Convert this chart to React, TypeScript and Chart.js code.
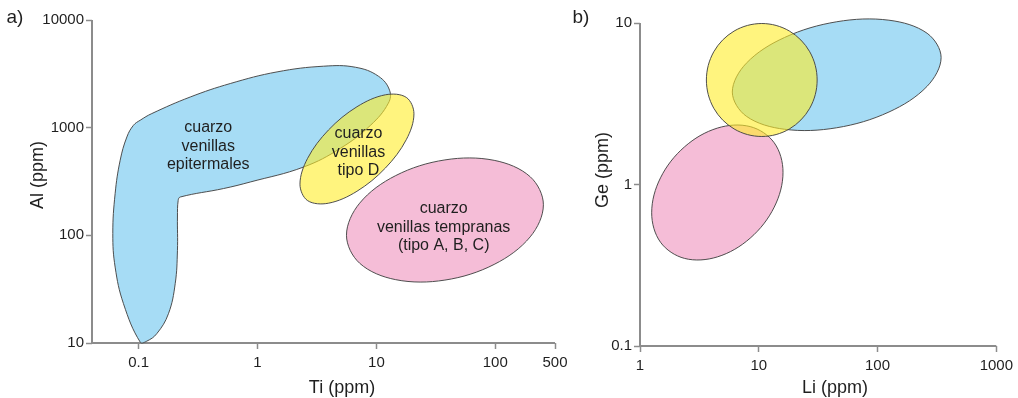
import React, { useEffect, useRef } from 'react';
import { Chart, registerables } from 'chart.js';

Chart.register(...registerables);

// ---------------- Panel a) Ti (ppm) vs Al (ppm) ----------------
const tiTickValues = [0.1, 1, 10, 100, 318];
const tiTickLabels = ['0.1', '1', '10', '100', '500'];
const tiAxisMin = 0.0405;
const tiAxisMax = 318;
const alTickValues = [10, 100, 1000, 10000];
const alTickLabels = ['10', '100', '1000', '10000'];
const alAxisMin = 10;
const alAxisMax = 10000;

// field "cuarzo venillas epitermales" (outline points)
const epiTi = [0.103, 0.0745, 0.0634, 0.0606, 0.0634, 0.0699, 0.0796, 0.0904, 0.103, 0.129, 0.272, 0.59, 1.46, 3.6, 6.67, 10.4, 12.9, 12.6, 8.92, 4.99, 2.44, 0.87, 0.518, 0.224, 0.215, 0.212, 0.212, 0.203, 0.178, 0.142, 0.117];
const epiAl = [10.2, 23.2, 50.7, 104, 244, 498, 820, 1052, 1172, 1352, 1928, 2570, 3296, 3724, 3640, 3006, 2228, 1687, 1052, 644, 431, 313, 272, 227, 211, 148, 72.6, 35.6, 18.7, 12.2, 10.4];

// field "cuarzo venillas tipo D"
const tipoDTi = [20.69, 17.84, 11.91, 6.86, 3.95, 2.637, 2.275, 2.637, 3.95, 6.86, 11.91, 17.84];
const tipoDAl = [1345, 1911, 2020, 1564, 951, 518.8, 298.5, 210.1, 198.8, 256.6, 422.1, 773.7];

// field "cuarzo venillas tempranas (tipo A, B, C)"
const tempTi = [254.0, 196.7, 97.9, 37.7, 14.53, 7.23, 5.6, 7.23, 14.53, 37.7, 97.9, 196.7];
const tempAl = [192.3, 350.1, 497.2, 501.8, 358.8, 199.0, 100.2, 55.05, 38.75, 38.4, 53.7, 96.8];

const aLabelLines = [
  ['cuarzo', 'venillas', 'epitermales'],
  ['cuarzo', 'venillas', 'tipo D'],
  ['cuarzo', 'venillas tempranas', '(tipo A, B, C)'],
];
const aLabelTi = [0.385, 7.07, 36.8];
const aLabelAl = [672, 590, 119];

// ---------------- Panel b) Li (ppm) vs Ge (ppm) ----------------
const liTickValues = [1, 10, 100, 1000];
const liTickLabels = ['1', '10', '100', '1000'];
const liAxisMin = 1;
const liAxisMax = 1000;
const geTickValues = [0.1, 1, 10];
const geTickLabels = ['0.1', '1', '10'];
const geAxisMin = 0.1;
const geAxisMax = 11.21;

const bPinkLi = [16.0, 13.49, 8.47, 4.48, 2.371, 1.488, 1.254, 1.488, 2.371, 4.48, 8.47, 13.49];
const bPinkGe = [1.191, 1.813, 2.283, 2.235, 1.711, 1.1, 0.668, 0.439, 0.3487, 0.3562, 0.4655, 0.724];

const bYellowLi = [31.01, 26.86, 18.13, 10.6, 6.194, 4.181, 3.622, 4.181, 6.194, 10.6, 18.13, 26.86];
const bYellowGe = [4.437, 6.637, 8.913, 9.929, 8.913, 6.637, 4.437, 2.966, 2.209, 1.983, 2.209, 2.966];

const bBlueLi = [343.0, 261.5, 124.7, 45.33, 16.48, 7.855, 5.988, 7.855, 16.48, 45.33, 124.7, 261.5];
const bBlueGe = [6.118, 8.638, 10.41, 10.18, 8.135, 5.636, 3.737, 2.647, 2.198, 2.246, 2.811, 4.057];

// ---------------- styling ----------------
const FONT = "'Liberation Sans', Arial, Helvetica, sans-serif";
const AXIS = '#8c8c8c';
const INK = '#1f1f1f';
const EDGE = 'rgba(70,70,70,0.95)';
const BLUE = 'rgb(166, 220, 245)';
const PINK = 'rgb(245, 189, 215)';
const YELLOW = 'rgba(255, 236, 40, 0.6)';
const H = 398;

const toPts = (xs: number[], ys: number[]) => xs.map((x, i) => ({ x, y: ys[i] }));

// makes every line dataset a closed smooth outline
const closedLoop = {
  id: 'closedLoop',
  afterDatasetUpdate(_chart: any, args: any) {
    const line = args.meta && args.meta.dataset;
    if (line) {
      line._loop = true;
      line._fullLoop = true;
      line.points = line.points;
    }
  },
};

// axis lines: y from the bottom up to its top tick, x along the bottom
const axisLines = {
  id: 'axisLines',
  beforeDatasetsDraw(chart: any) {
    const ctx = chart.ctx;
    const ca = chart.chartArea;
    const ys = chart.scales.y;
    const yTop = Math.round(ys.getPixelForValue(ys.ticks[ys.ticks.length - 1].value));
    ctx.save();
    ctx.strokeStyle = AXIS;
    ctx.lineWidth = 2;
    ctx.beginPath();
    ctx.moveTo(ca.left, yTop);
    ctx.lineTo(ca.left, ca.bottom);
    ctx.lineTo(ca.right, ca.bottom);
    ctx.stroke();
    ctx.restore();
  },
};

function shape(label: string, xs: number[], ys: number[], fill: string, tension: number) {
  return {
    label,
    data: toPts(xs, ys),
    backgroundColor: fill,
    borderColor: EDGE,
    borderWidth: 1,
    fill: 'shape',
    tension,
    pointRadius: 0,
    pointHoverRadius: 0,
    capBezierPoints: false,
    clip: 40,
  };
}

function axis(min: number, max: number, values: number[], labels: string[], isX: boolean, fitSize: number) {
  return {
    type: 'logarithmic',
    min,
    max,
    position: isX ? 'bottom' : 'left',
    afterBuildTicks: (s: any) => {
      s.ticks = values.map((v) => ({ value: v }));
    },
    afterFit: (s: any) => {
      if (isX) s.height = fitSize;
      else s.width = fitSize;
    },
    ticks: {
      autoSkip: false,
      maxRotation: 0,
      minRotation: 0,
      padding: isX ? 5 : 2,
      color: INK,
      font: { family: FONT, size: 15 },
      callback: (_v: any, i: number) => labels[i],
    },
    grid: { display: true, drawOnChartArea: false, drawTicks: true, tickLength: 6, tickColor: AXIS, tickWidth: 1.5 },
    border: { display: false },
    title: { display: false },
  };
}

function textPlugin(spec: any) {
  return {
    id: 'panelTexts',
    afterDatasetsDraw(chart: any) {
      const ctx = chart.ctx;
      const xs = chart.scales.x;
      const ys = chart.scales.y;
      ctx.save();
      ctx.fillStyle = INK;
      ctx.textAlign = 'center';
      ctx.textBaseline = 'middle';
      ctx.font = `16px ${FONT}`;
      (spec.lines || []).forEach((lines: string[], k: number) => {
        const cx = xs.getPixelForValue(spec.lx[k]);
        const cy = ys.getPixelForValue(spec.ly[k]);
        lines.forEach((t, j) => ctx.fillText(t, cx, cy + (j - (lines.length - 1) / 2) * 18.5));
      });
      ctx.font = `19px ${FONT}`;
      ctx.fillText(spec.letter, spec.letterPos[0], spec.letterPos[1]);
      ctx.font = `18px ${FONT}`;
      ctx.textBaseline = 'alphabetic';
      ctx.fillText(spec.xTitle, spec.xTitlePos[0], spec.xTitlePos[1]);
      ctx.translate(spec.yTitlePos[0], spec.yTitlePos[1]);
      ctx.rotate(-Math.PI / 2);
      ctx.fillText(spec.yTitle, 0, 0);
      ctx.restore();
    },
  };
}

function baseOptions(padding: any, x: any, y: any) {
  return {
    animation: false,
    responsive: false,
    devicePixelRatio: 1,
    events: [],
    layout: { padding },
    scales: { x, y },
    plugins: { legend: { display: false }, tooltip: { enabled: false } },
  };
}

function configA(): any {
  return {
    type: 'line',
    data: {
      datasets: [
        shape('cuarzo venillas tipo D', tipoDTi, tipoDAl, YELLOW, 0.35),
        shape('cuarzo venillas tempranas', tempTi, tempAl, PINK, 0.35),
        shape('cuarzo venillas epitermales', epiTi, epiAl, BLUE, 0.4),
      ],
    },
    options: baseOptions(
      { left: 0, top: 20, right: 25, bottom: 0 },
      axis(tiAxisMin, tiAxisMax, tiTickValues, tiTickLabels, true, 55),
      axis(alAxisMin, alAxisMax, alTickValues, alTickLabels, false, 92)
    ),
    plugins: [
      closedLoop,
      axisLines,
      textPlugin({
        lines: aLabelLines,
        lx: aLabelTi,
        ly: aLabelAl,
        letter: 'a)',
        letterPos: [15, 18],
        xTitle: 'Ti (ppm)',
        xTitlePos: [342, 393],
        yTitle: 'Al (ppm)',
        yTitlePos: [43, 175],
      }),
    ],
  };
}

function configB(): any {
  return {
    type: 'line',
    data: {
      datasets: [
        shape('yellow', bYellowLi, bYellowGe, YELLOW, 0.35),
        shape('pink', bPinkLi, bPinkGe, PINK, 0.35),
        shape('blue', bBlueLi, bBlueGe, BLUE, 0.35),
      ],
    },
    options: baseOptions(
      { left: 0, top: 15, right: 21, bottom: 0 },
      axis(liAxisMin, liAxisMax, liTickValues, liTickLabels, true, 52),
      axis(geAxisMin, geAxisMax, geTickValues, geTickLabels, false, 80)
    ),
    plugins: [
      closedLoop,
      axisLines,
      textPlugin({
        lines: [],
        lx: [],
        ly: [],
        letter: 'b)',
        letterPos: [21, 18],
        xTitle: 'Li (ppm)',
        xTitlePos: [275, 393],
        yTitle: 'Ge (ppm)',
        yTitlePos: [48, 170],
      }),
    ],
  };
}

function Panel({ left, width, make }: { left: number; width: number; make: () => any }) {
  const ref = useRef<HTMLCanvasElement | null>(null);
  useEffect(() => {
    if (!ref.current) return;
    const chart = new Chart(ref.current, make());
    return () => chart.destroy();
  }, []);
  return (
    <div style={{ position: 'absolute', left, top: 0, width, height: H }}>
      <canvas ref={ref} width={width} height={H} style={{ display: 'block', width, height: H }} />
    </div>
  );
}

export default function App() {
  return (
    <div style={{ position: 'absolute', left: 0, top: 0, width: 1018, height: H, background: '#fff', overflow: 'hidden' }}>
      <Panel left={0} width={580} make={configA} />
      <Panel left={560} width={458} make={configB} />
    </div>
  );
}
